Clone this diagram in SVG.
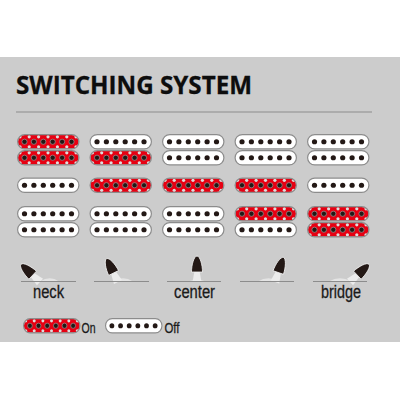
<svg xmlns="http://www.w3.org/2000/svg" width="400" height="400" viewBox="0 0 400 400">
<style>
.t{font-family:"Liberation Sans",Arial,sans-serif;fill:#1a1a1a;font-size:18px;stroke:#1a1a1a;stroke-width:.3}
.rule{stroke:#8c8c8c;stroke-width:1;fill:none}
.sw{stroke:#8c8c8c;stroke-width:1}
.mound{fill:#e4e4e4}
.stem{fill:#ececec}
.tip{fill:#231815;stroke:#f4f4f4;stroke-width:.8}
</style>
<defs>
<clipPath id="pill"><rect x="1" y="1" width="60.500" height="13.500" rx="6.750"/></clipPath>
<g id="dots"><circle cx="7.500" r="2.600"/><circle cx="16.900" r="2.600"/><circle cx="26.300" r="2.600"/><circle cx="35.700" r="2.600"/><circle cx="45.100" r="2.600"/><circle cx="54.500" r="2.600"/></g>
<g id="off"><rect x=".6" y=".6" width="61.300" height="14.300" rx="7.150" fill="#fff" stroke="#8c8c8c" stroke-width="1.200"/><use href="#dots" y="7.750" fill="#231815"/></g>
<g id="speck"><circle cx="3" r="1.600"/><circle cx="12.200" r="1.600"/><circle cx="21.600" r="1.600"/><circle cx="31" r="1.600"/><circle cx="40.400" r="1.600"/><circle cx="49.800" r="1.600"/><circle cx="59" r="1.600"/></g>
<g id="on"><g clip-path="url(#pill)"><rect width="63" height="16" fill="#e60012"/><use href="#speck" y="2.800" fill="#ddd"/><use href="#speck" y="12.800" fill="#ddd"/></g><rect x=".6" y=".6" width="61.300" height="14.300" rx="7.150" fill="none" stroke="#8c8c8c" stroke-width="1.200"/><use href="#dots" y="7.750" fill="#231815" stroke="#999" stroke-width=".7"/></g>
<g id="lever"><path class="stem" d="M-2.500 -11L2.500 -11L4.500 0L-4.500 0Z"/><path class="tip" d="M0 -26C3 -26 5.500 -17 5.500 -10L-5.500 -10C-5.500 -17 -3 -26 0 -26Z"/></g>
</defs>
<rect x="0" y="57" width="400" height="285" fill="#ccc"/>
<text x="16" y="93.500" font-family="'Open Sans',sans-serif" font-weight="700" font-size="25" fill="#0d0d0d" stroke="#0d0d0d" stroke-width=".3" textLength="236" lengthAdjust="spacingAndGlyphs">SWITCHING SYSTEM</text>
<path class="rule" d="M16 112H372"/>
<g id="col1"><use href="#on" x="17" y="134"/><use href="#on" x="17" y="150"/><use href="#off" x="17" y="177.500"/><use href="#off" x="17" y="206"/><use href="#off" x="17" y="222"/></g>
<g id="col2"><use href="#off" x="89.500" y="134"/><use href="#on" x="89.500" y="150"/><use href="#on" x="89.500" y="177.500"/><use href="#off" x="89.500" y="206"/><use href="#off" x="89.500" y="222"/></g>
<g id="col3"><use href="#off" x="162" y="134"/><use href="#off" x="162" y="150"/><use href="#on" x="162" y="177.500"/><use href="#off" x="162" y="206"/><use href="#off" x="162" y="222"/></g>
<g id="col4"><use href="#off" x="234.500" y="134"/><use href="#off" x="234.500" y="150"/><use href="#on" x="234.500" y="177.500"/><use href="#on" x="234.500" y="206"/><use href="#off" x="234.500" y="222"/></g>
<g id="col5"><use href="#off" x="307" y="134"/><use href="#off" x="307" y="150"/><use href="#off" x="307" y="177.500"/><use href="#on" x="307" y="206"/><use href="#on" x="307" y="222"/></g>
<g id="sw-neck"><path class="mound" d="M40 281.500Q50 275 59 281.500Z"/><use href="#lever" transform="translate(40 282) rotate(-47)"/><path class="sw" d="M21 281.500H76"/><text class="t" x="33" y="298" textLength="31" lengthAdjust="spacingAndGlyphs">neck</text></g>
<g id="sw-2"><path class="mound" d="M113 281.500Q123 275 133 281.500Z"/><use href="#lever" transform="translate(118 282) rotate(-26)"/><path class="sw" d="M94 281.500H149"/></g>
<g id="sw-center"><path class="mound" d="M188 281.500Q197 278 206 281.500Z"/><use href="#lever" transform="translate(197 282)"/><path class="sw" d="M167 281.500H221"/><text class="t" x="174" y="298" textLength="41" lengthAdjust="spacingAndGlyphs">center</text></g>
<g id="sw-4"><path class="mound" d="M258 281.500Q268 275 280 281.500Z"/><use href="#lever" transform="translate(275 282) rotate(19)"/><path class="sw" d="M240 281.500H294"/></g>
<g id="sw-bridge"><path class="mound" d="M329 281.500Q340 275 351 281.500Z"/><use href="#lever" transform="translate(350 282) rotate(47)"/><path class="sw" d="M313 281.500H367"/><text class="t" x="321" y="298" textLength="40" lengthAdjust="spacingAndGlyphs">bridge</text></g>
<g id="legend-on"><use href="#on" transform="translate(23 318) scale(.92 1)"/><text class="t" x="81.500" y="332.500" font-size="15" style="font-size:15px" textLength="14" lengthAdjust="spacingAndGlyphs">On</text></g>
<g id="legend-off"><use href="#off" transform="translate(105 318) scale(.92 1)"/><text class="t" x="164.500" y="332.500" style="font-size:15px" textLength="15" lengthAdjust="spacingAndGlyphs">Off</text></g>
</svg>
